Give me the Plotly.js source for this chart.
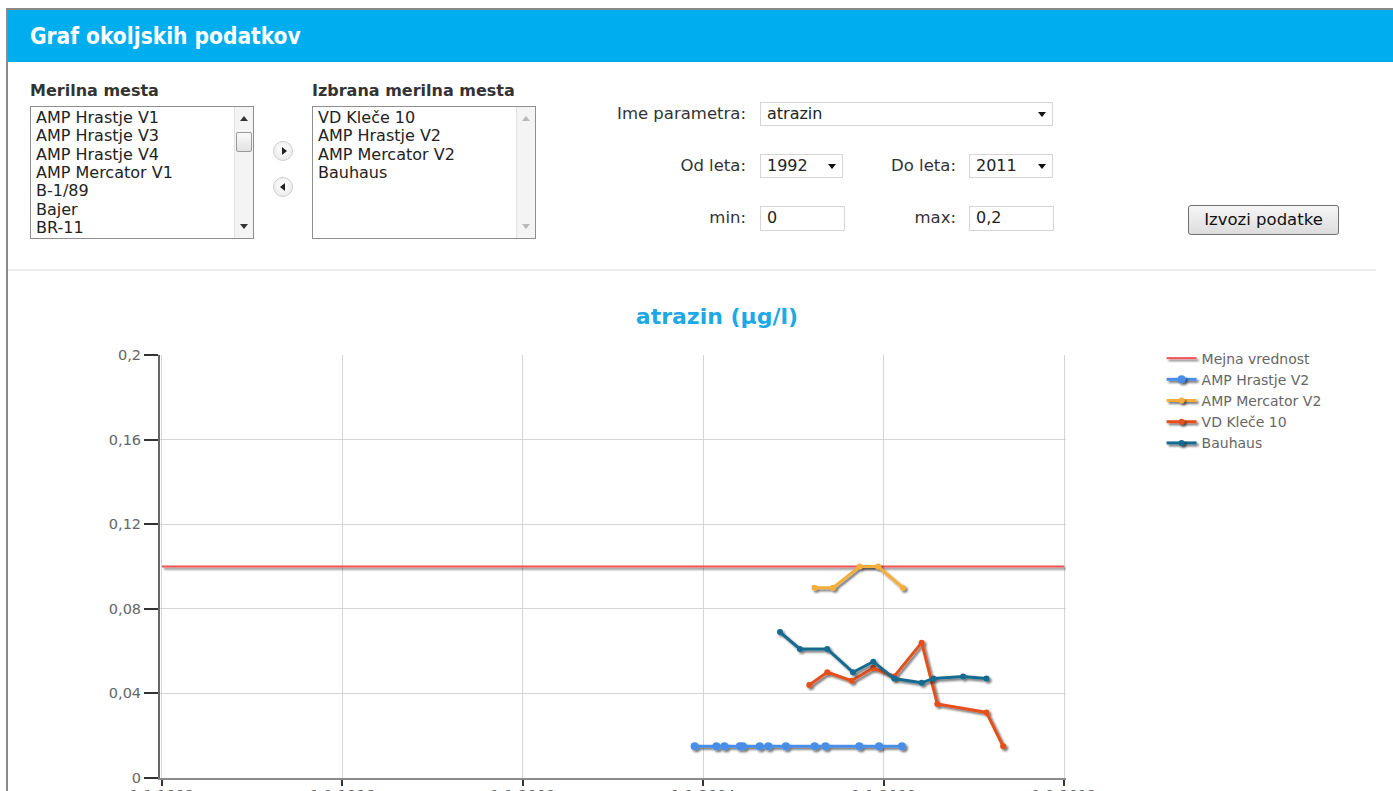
<!DOCTYPE html>
<html>
<head>
<meta charset="utf-8">
<script src="https://cdn.plot.ly/plotly-3.0.1.min.js"></script>
<style>
html,body{margin:0;padding:0;background:#fff;width:1393px;height:791px;overflow:hidden;}
body{position:relative;font-family:"DejaVu Sans",sans-serif;color:#333;}
.abs{position:absolute;}
#frameTop{left:6px;top:8px;width:1387px;height:2px;background:#8a8a8a;}
#frameLeft{left:6px;top:8px;width:2px;height:800px;background:#8a8a8a;}
#header{left:8px;top:10px;width:1385px;height:52px;background:#00aeef;}
#header span{position:absolute;left:22px;top:13px;font-family:"DejaVu Sans Condensed","DejaVu Sans",sans-serif;font-weight:bold;font-size:22.5px;color:#fff;}
.lbl{font-weight:bold;font-size:16px;color:#333;}
.list{border:1px solid #8f8f8f;background:#fff;box-sizing:border-box;}
.list .it{position:absolute;left:5px;font-size:16px;color:#222;line-height:18px;white-space:nowrap;}
.sb{position:absolute;right:0;top:0;width:19px;height:100%;background:#f4f4f4;border-left:1px solid #e2e2e2;box-sizing:border-box;}
.sb .up,.sb .dn{position:absolute;left:5px;width:0;height:0;border-left:4px solid transparent;border-right:4px solid transparent;}
.sb .up{top:9px;border-bottom:5px solid #333;}
.sb .dn{bottom:9px;border-top:5px solid #333;}
.sb.dis .up{border-bottom-color:#b8b8b8;}
.sb.dis .dn{border-top-color:#b8b8b8;}
.sb .th{position:absolute;left:1px;top:25px;width:16px;height:20px;background:linear-gradient(#fafafa,#e2e2e2);border:1px solid #9a9a9a;box-sizing:border-box;border-radius:2px;}
.rb{width:20px;height:20px;border-radius:50%;border:1px solid #cfcfcf;background:radial-gradient(circle at 50% 40%,#ffffff,#e6e6e6);box-sizing:border-box;}
.rb i{position:absolute;top:5px;width:0;height:0;border-top:4px solid transparent;border-bottom:4px solid transparent;}
.rb.r i{left:8px;border-left:5px solid #222;}
.rb.l i{left:6px;border-right:5px solid #222;}
.flab{font-size:16.5px;color:#333;text-align:right;white-space:nowrap;}
.sel,.inp{border:1px solid #d6d6d6;background:#fff;box-sizing:border-box;font-size:16px;color:#222;}
.sel span,.inp span{position:absolute;left:6px;top:1px;}
.sel i{position:absolute;right:6px;top:9px;width:0;height:0;border-left:4px solid transparent;border-right:4px solid transparent;border-top:5px solid #111;}
#btn{left:1188px;top:205px;width:151px;height:30px;border:1px solid #707070;border-radius:3px;box-sizing:border-box;background:linear-gradient(#f6f6f6,#dcdcdc);font-size:16.5px;color:#111;text-align:center;line-height:28px;}
#sep{left:8px;top:269px;width:1368px;height:2px;background:#ececec;}
#chart{left:0;top:280px;width:1393px;height:570px;}
</style>
</head>
<body>
<div id="frameTop" class="abs"></div>
<div id="frameLeft" class="abs"></div>
<div id="header" class="abs"><span>Graf okoljskih podatkov</span></div>

<div class="abs lbl" style="left:30px;top:81px;">Merilna mesta</div>
<div class="abs lbl" style="left:312px;top:81px;">Izbrana merilna mesta</div>

<div id="list1" class="abs list" style="left:30px;top:106px;width:224px;height:133px;"></div>
<div id="list2" class="abs list" style="left:312px;top:106px;width:224px;height:133px;"></div>

<div class="abs rb r" style="left:273px;top:141px;"><i></i></div>
<div class="abs rb l" style="left:273px;top:177px;"><i></i></div>

<div class="abs flab" style="left:560px;width:186px;top:104px;">Ime parametra:</div>
<div class="abs sel" style="left:760px;top:102px;width:293px;height:24px;"><span>atrazin</span><i></i></div>

<div class="abs flab" style="left:560px;width:186px;top:156px;">Od leta:</div>
<div class="abs sel" style="left:760px;top:154px;width:83px;height:24px;"><span>1992</span><i></i></div>
<div class="abs flab" style="left:850px;width:106px;top:156px;">Do leta:</div>
<div class="abs sel" style="left:969px;top:154px;width:84px;height:24px;"><span>2011</span><i></i></div>

<div class="abs flab" style="left:560px;width:186px;top:208px;">min:</div>
<div class="abs inp" style="left:760px;top:206px;width:85px;height:25px;"><span>0</span></div>
<div class="abs flab" style="left:850px;width:106px;top:208px;">max:</div>
<div class="abs inp" style="left:969px;top:206px;width:85px;height:25px;"><span>0,2</span></div>

<div id="btn" class="abs">Izvozi podatke</div>
<div id="sep" class="abs"></div>

<div id="chart" class="abs"></div>

<svg width="0" height="0" style="position:absolute">
  <defs>
    <filter id="shadow" filterUnits="userSpaceOnUse" x="-2000" y="-2000" width="6000" height="6000">
      <feGaussianBlur in="SourceAlpha" stdDeviation="0.9"/>
      <feOffset dx="1.5" dy="2" result="ob"/>
      <feComponentTransfer><feFuncA type="linear" slope="0.55"/></feComponentTransfer>
      <feMerge><feMergeNode/><feMergeNode in="SourceGraphic"/></feMerge>
    </filter>
  </defs>
</svg>

<script>
// ---- list contents ----
var availableSites = ["AMP Hrastje V1", "AMP Hrastje V3", "AMP Hrastje V4", "AMP Mercator V1", "B-1/89", "Bajer", "BR-11"];
var selectedSites = ["VD Kleče 10", "AMP Hrastje V2", "AMP Mercator V2", "Bauhaus"];

// ---- chart data ----
var limitName = "Mejna vrednost";
var limitDates = ["1992-01-01", "2012-01-01"];
var limitValues = [0.1, 0.1];

var hrastjeDates = ["2003-10-23", "2004-04-16", "2004-06-20", "2004-10-23", "2004-11-17", "2005-04-01", "2005-06-10", "2005-10-30", "2006-06-20", "2006-09-16", "2007-06-17", "2007-11-24", "2008-05-27"];
var hrastjeValues = [0.015, 0.015, 0.015, 0.015, 0.015, 0.015, 0.015, 0.015, 0.015, 0.015, 0.015, 0.015, 0.015];

var mercatorDates = ["2006-06-20", "2006-11-17", "2007-06-20", "2007-11-17", "2008-06-03"];
var mercatorValues = [0.09, 0.09, 0.1, 0.1, 0.09];

var kleceDates = ["2006-05-08", "2006-10-01", "2007-04-16", "2007-10-08", "2008-03-26", "2008-11-03", "2009-03-10", "2010-04-12", "2010-08-25"];
var kleceValues = [0.044, 0.05, 0.046, 0.052, 0.048, 0.064, 0.035, 0.031, 0.015];

var bauhausDates = ["2005-09-13", "2006-02-21", "2006-10-01", "2007-04-27", "2007-10-08", "2008-03-26", "2008-11-03", "2009-02-06", "2009-10-05", "2010-04-12"];
var bauhausValues = [0.069, 0.061, 0.061, 0.05, 0.055, 0.047, 0.045, 0.047, 0.048, 0.047];

var chartTitle = "atrazin (µg/l)";

// ---- build lists ----
function fillList(id, items, scroll) {
  var el = document.getElementById(id);
  items.forEach(function (t, i) {
    var d = document.createElement("div");
    d.className = "it";
    d.style.top = (2 + i * 18.3) + "px";
    d.textContent = t;
    el.appendChild(d);
  });
  var sb = document.createElement("div");
  sb.className = "sb" + (scroll ? "" : " dis");
  sb.innerHTML = '<div class="up"></div><div class="dn"></div>' + (scroll ? '<div class="th"></div>' : '');
  el.appendChild(sb);
}
fillList("list1", availableSites, true);
fillList("list2", selectedSites, false);

// ---- chart ----
var mk = function (name, x, y, color, msize) {
  return {
    type: "scatter", mode: "lines+markers", name: name, x: x, y: y,
    line: {color: color, width: 3},
    marker: {color: color, size: msize, symbol: "circle"}
  };
};
var traces = [
  {type: "scatter", mode: "lines", name: limitName, x: limitDates, y: limitValues,
   line: {color: "#f25555", width: 2}},
  mk("AMP Hrastje V2", hrastjeDates, hrastjeValues, "#4a8ee6", 8),
  mk("AMP Mercator V2", mercatorDates, mercatorValues, "#f5ae3c", 6),
  mk("VD Kleče 10", kleceDates, kleceValues, "#e4501c", 6),
  mk("Bauhaus", bauhausDates, bauhausValues, "#17698f", 6)
];
var layout = {
  width: 1393, height: 570,
  margin: {l: 160, r: 327, t: 75, b: 72},
  paper_bgcolor: "rgba(0,0,0,0)", plot_bgcolor: "#fff",
  separators: ",.",
  font: {family: "DejaVu Sans, sans-serif", color: "#666", size: 14.5},
  title: {text: chartTitle, font: {family: "DejaVu Sans, sans-serif", size: 22, color: "#1ea8e4", weight: "bold"},
          xref: "container", x: 717 / 1393, xanchor: "center", yref: "container", y: 1 - 36 / 570, yanchor: "middle"},
  showlegend: true,
  legend: {x: 1.1055, xanchor: "left", y: 1.0295, yanchor: "top", font: {size: 14, color: "#666"},
           bgcolor: "rgba(0,0,0,0)", tracegroupgap: 0, itemwidth: 30},
  xaxis: {type: "date", range: ["1991-12-16", "2012-01-16"], tick0: "1992-01-01", dtick: "M48",
          tickformat: "%-d.%-m.%Y", showgrid: true, gridcolor: "#d4d4d4", gridwidth: 1,
          showline: true, linecolor: "#8a8a8a", linewidth: 2, ticks: "outside", ticklen: 6, tickwidth: 2, tickcolor: "#333",
          ticklabelstandoff: -3,
          zeroline: false, tickfont: {size: 14.5, color: "#666"}, fixedrange: true},
  yaxis: {range: [0, 0.2], dtick: 0.04, tick0: 0, showgrid: true, gridcolor: "#d4d4d4", gridwidth: 1,
          showline: true, linecolor: "#666", linewidth: 2, ticks: "outside", ticklen: 14, tickwidth: 2, tickcolor: "#333",
          zeroline: false, tickfont: {size: 14.5, color: "#666"}, fixedrange: true}
};
function addShadows() {
  var gd = document.getElementById("chart");
  gd.querySelectorAll(".scatterlayer .trace, .legend .legendlines, .legend .legendpoints").forEach(function (g) {
    g.setAttribute("filter", "url(#shadow)");
  });
}
Plotly.newPlot("chart", traces, layout, {displayModeBar: false, staticPlot: true}).then(addShadows);
</script>
</body>
</html>
